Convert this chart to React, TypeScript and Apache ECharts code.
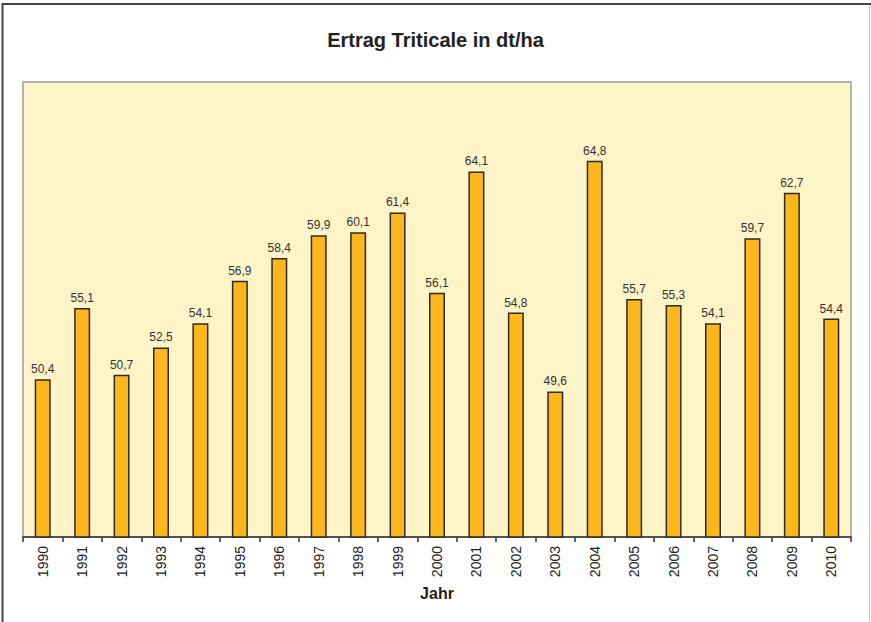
import React, { useEffect, useRef } from "react";
import * as echarts from "echarts";

const years = ["1990","1991","1992","1993","1994","1995","1996","1997","1998","1999","2000","2001","2002","2003","2004","2005","2006","2007","2008","2009","2010"];
const yields = [50.4,55.1,50.7,52.5,54.1,56.9,58.4,59.9,60.1,61.4,56.1,64.1,54.8,49.6,64.8,55.7,55.3,54.1,59.7,62.7,54.4];
const titleText = "Ertrag Triticale in dt/ha";
const xName = "Jahr";
const FONT = "Liberation Sans, Arial, sans-serif";

export default function App() {
  const ref = useRef<HTMLDivElement>(null);
  useEffect(() => {
    document.body.style.margin = "0";
    const chart = echarts.init(ref.current!, null, { renderer: "svg" });
    chart.setOption({
      animation: false,
      backgroundColor: "#ffffff",
      title: {
        text: titleText,
        left: "center",
        top: 25,
        textStyle: { fontFamily: FONT, fontSize: 20, fontWeight: "bold", color: "#222" },
      },
      graphic: [
        { type: "line", shape: { x1: 2.5, y1: 4, x2: 871, y2: 4 }, style: { stroke: "#444", lineWidth: 2 } },
        { type: "line", shape: { x1: 2.5, y1: 3, x2: 2.5, y2: 622 }, style: { stroke: "#444", lineWidth: 2 } },
        { type: "line", shape: { x1: 869.5, y1: 5, x2: 869.5, y2: 622 }, style: { stroke: "#c8c8c8", lineWidth: 1 } },
      ],
      grid: {
        left: 23, right: 20, top: 82, bottom: 85,
        show: true, backgroundColor: "#FFF3C8", borderColor: "#9a9a9a", borderWidth: 1.5,
      },
      xAxis: {
        type: "category",
        data: years,
        name: xName,
        nameLocation: "middle",
        nameGap: 48,
        nameTextStyle: { fontFamily: FONT, fontSize: 16, fontWeight: "bold", color: "#222" },
        axisLine: { lineStyle: { color: "#333", width: 1.5 } },
        axisTick: { show: true, alignWithLabel: false, length: 5, lineStyle: { color: "#333", width: 1.5 } },
        axisLabel: { rotate: 90, margin: 9, fontFamily: FONT, fontSize: 14, color: "#222" },
      },
      yAxis: {
        type: "value", min: 40, max: 70, show: false, splitLine: { show: false },
      },
      series: [{
        type: "bar",
        data: yields,
        barWidth: 16,
        itemStyle: { color: "#FDB71C", borderColor: "#2b2b2b", borderWidth: 1.5 },
        label: {
          show: true, position: "top", distance: 4,
          fontFamily: FONT, fontSize: 12, color: "#333",
          formatter: (p: any) => String(p.value.toFixed(1)).replace(".", ","),
        },
      }],
    });
    return () => chart.dispose();
  }, []);
  return <div ref={ref} style={{ width: 871, height: 622 }} />;
}
